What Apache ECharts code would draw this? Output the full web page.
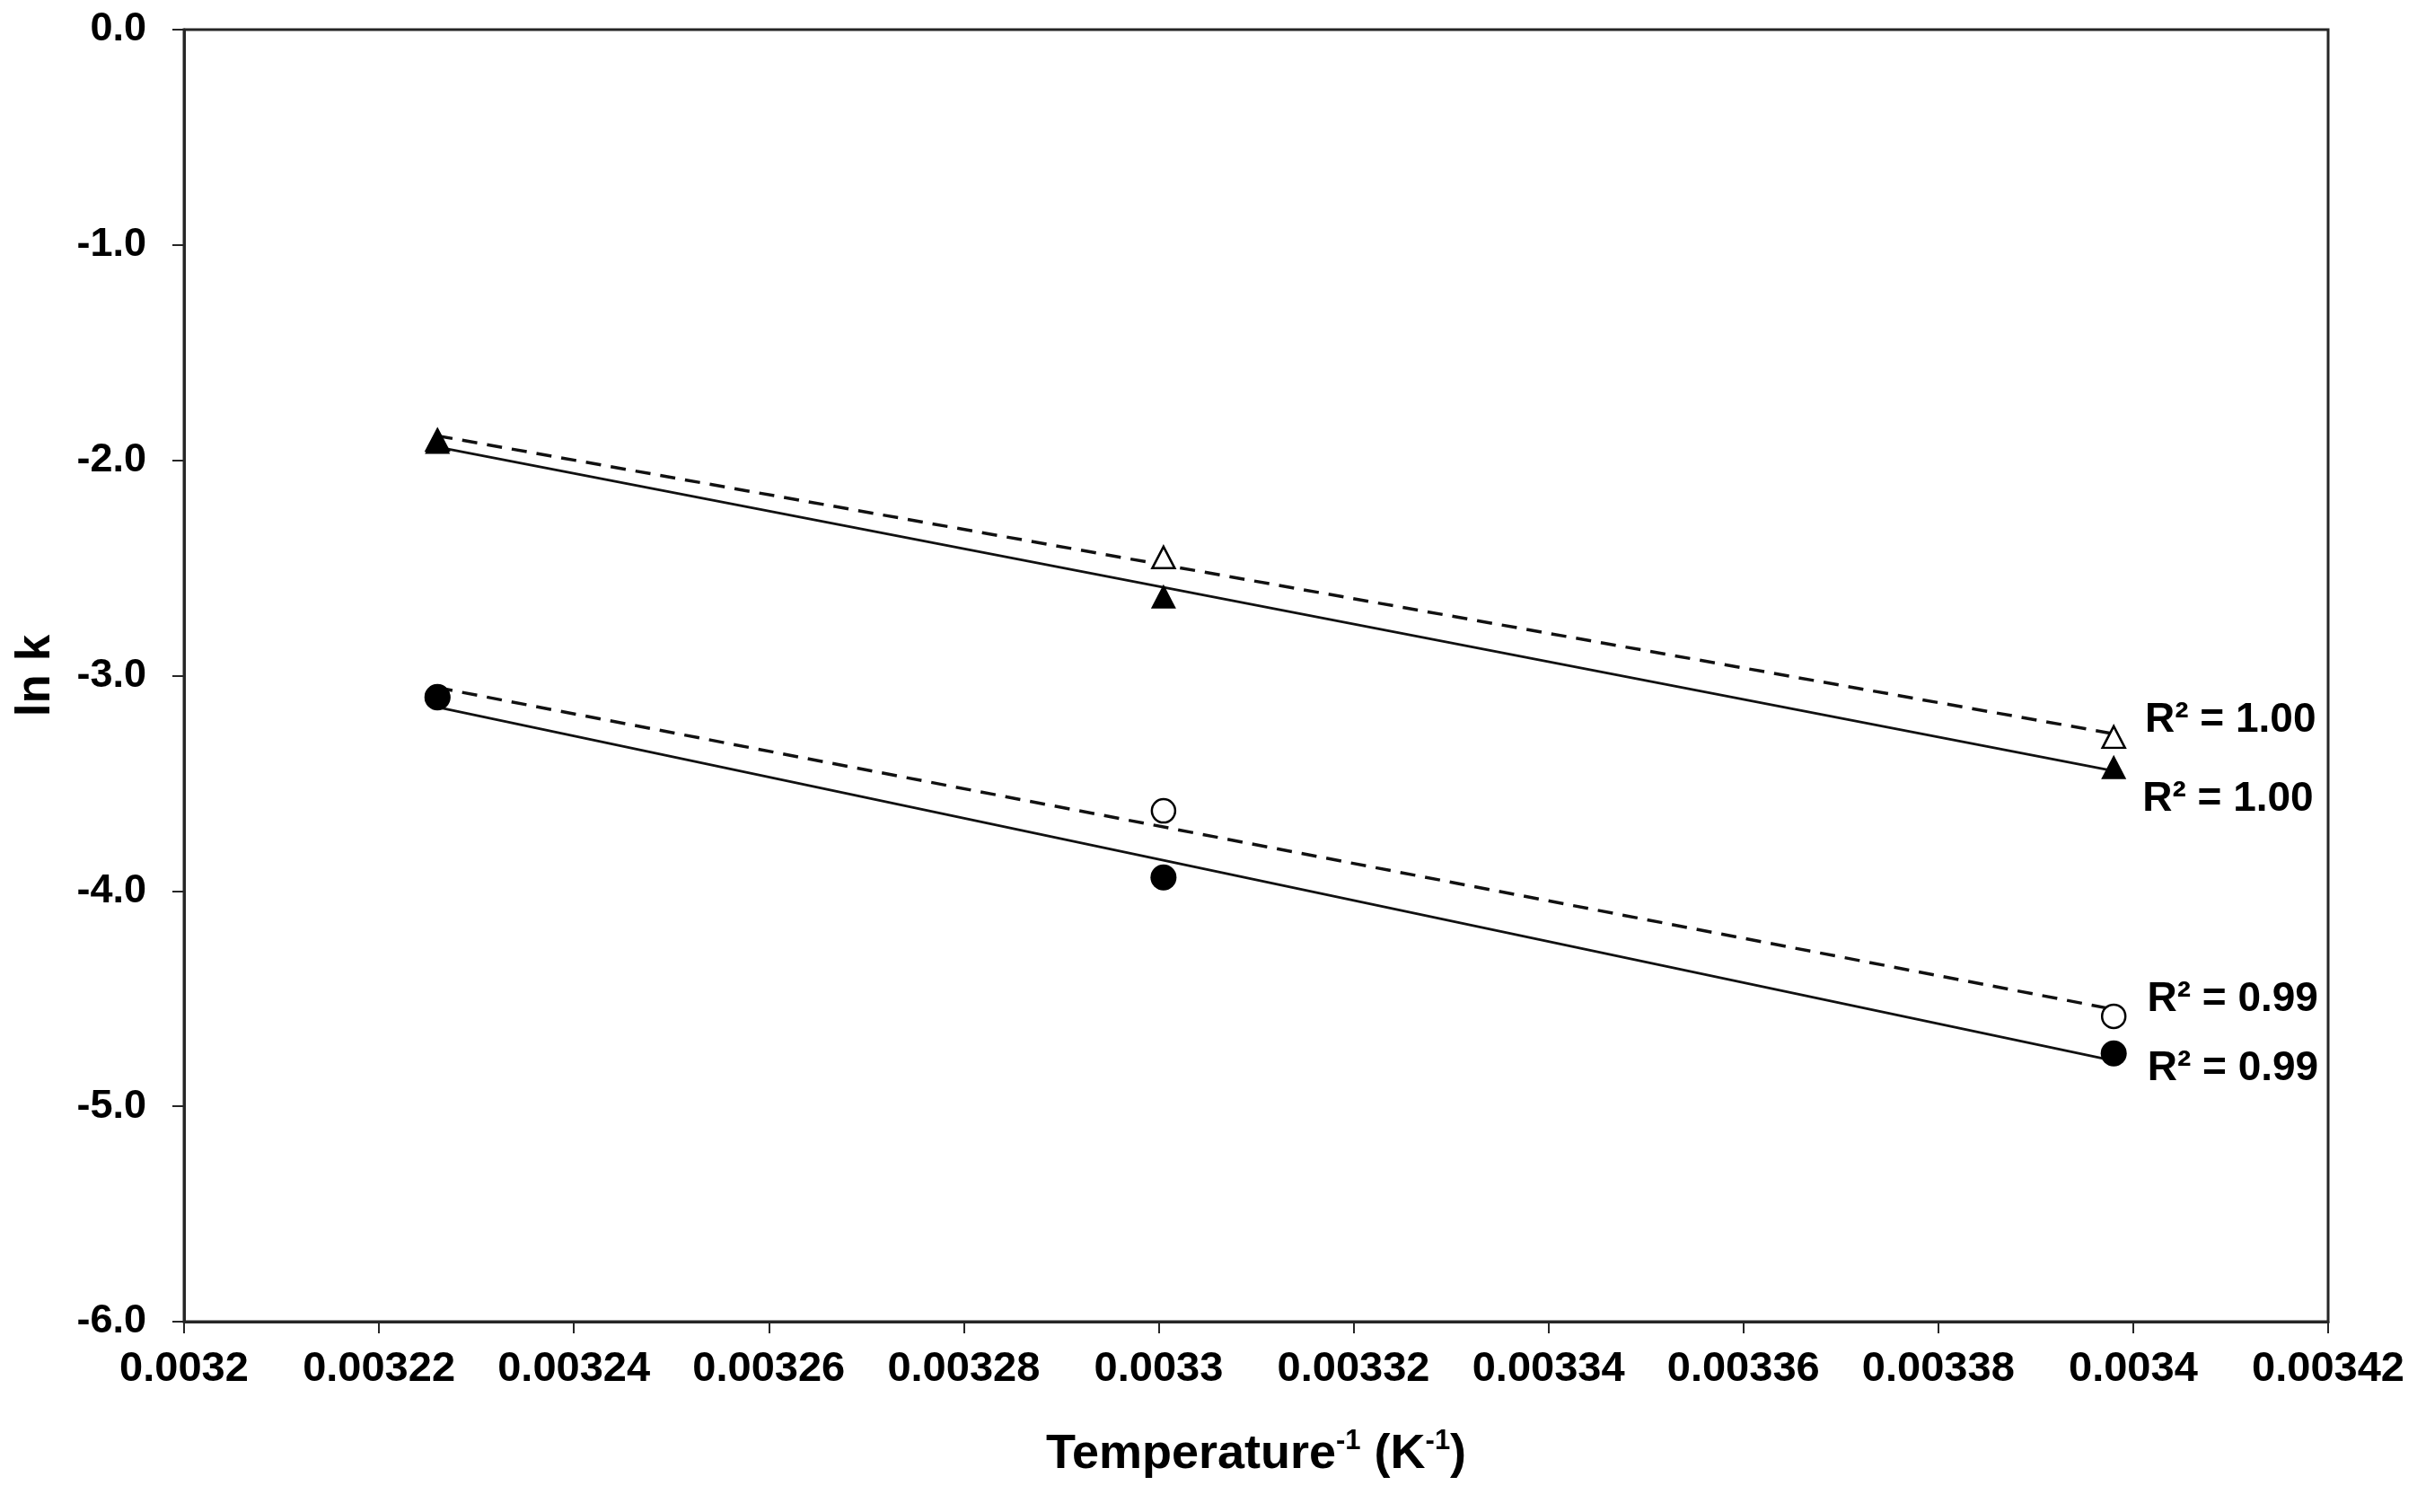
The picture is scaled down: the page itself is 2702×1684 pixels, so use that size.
<!DOCTYPE html>
<html>
<head>
<meta charset="utf-8">
<script src="https://cdn.jsdelivr.net/npm/echarts@6/dist/echarts.min.js"></script>
<style>
html,body{margin:0;padding:0;background:#fff;}
#chart{width:2702px;height:1684px;}
</style>
</head>
<body>
<div id="chart"></div>
<script>
// Inverse temperature (K^-1)
var invT = [0.003226, 0.0033005, 0.003398];
// ln k values
var filledTriangle = [-1.914, -2.632, -3.424];
var openTriangle   = [-1.906, -2.451, -3.285];
var filledCircle   = [-3.101, -3.937, -4.754];
var openCircle     = [-3.098, -3.628, -4.582];
// R² labels
var r2Labels = ['R² = 1.00', 'R² = 1.00', 'R² = 0.99', 'R² = 0.99'];
// axis ticks
var xTickLabels = ['0.0032','0.00322','0.00324','0.00326','0.00328','0.0033','0.00332','0.00334','0.00336','0.00338','0.0034','0.00342'];
var yTickLabels = ['-6.0','-5.0','-4.0','-3.0','-2.0','-1.0','0.0'];

function pairs(ys){ return invT.map(function(x,i){ return [x, ys[i]]; }); }
function fit(ys){
  var n = invT.length, mx = 0, my = 0;
  for (var i=0;i<n;i++){ mx += invT[i]; my += ys[i]; }
  mx/=n; my/=n;
  var sxy=0, sxx=0;
  for (var j=0;j<n;j++){ sxy += (invT[j]-mx)*(ys[j]-my); sxx += (invT[j]-mx)*(invT[j]-mx); }
  var b = sxy/sxx, a = my - b*mx;
  var x0 = invT[0], x1 = invT[n-1];
  return [[x0, a+b*x0],[x1, a+b*x1]];
}

var font = '"Liberation Sans", Arial, sans-serif';
var lineColor = '#111';

function trend(ys, dashed){
  return {
    type:'line', data: fit(ys), symbol:'none', silent:true, z:2,
    lineStyle:{ color: lineColor, width: dashed ? 3.5 : 2.8, type: dashed ? [17,11] : 'solid' }
  };
}
function lastLabel(ys, text, off){
  var d = pairs(ys);
  return d.map(function(p, i){
    if (i !== d.length-1) return p;
    return { value: p, label: { show:true, formatter: text, position:'right', offset: off,
      fontFamily: font, fontWeight:'bold', fontSize:46, color:'#000' } };
  });
}

var chart = echarts.init(document.getElementById('chart'));
chart.setOption({
  animation:false,
  backgroundColor:'#fff',
  grid:{ left:205, right:109, top:33, bottom:212, show:true, borderColor:'#262626', borderWidth:3, backgroundColor:'transparent' },
  xAxis:{
    type:'value', min:0.0032, max:0.00342, interval:0.00002,
    axisLine:{ show:true, onZero:false, lineStyle:{ color:'#262626', width:3 } },
    axisTick:{ show:true, inside:false, length:13, lineStyle:{ color:'#262626', width:2 } },
    splitLine:{ show:false },
    axisLabel:{ margin:30, fontFamily:font, fontWeight:'bold', fontSize:47, color:'#000',
      formatter:function(v){ return xTickLabels[Math.round((v-0.0032)/0.00002)]; } },
    name:'{a|Temperature}{s|-1}{a| (K}{s|-1}{a|)}',
    nameLocation:'middle', nameGap:118,
    nameTextStyle:{ rich:{
      a:{ fontFamily:font, fontWeight:'bold', fontSize:54, color:'#000', lineHeight:60 },
      s:{ fontFamily:font, fontWeight:'bold', fontSize:31, color:'#000', lineHeight:60, verticalAlign:'top', padding:[0,0,22,0] }
    } }
  },
  yAxis:{
    type:'value', min:-6, max:0, interval:1,
    axisLine:{ show:true, onZero:false, lineStyle:{ color:'#262626', width:3 } },
    axisTick:{ show:true, inside:false, length:13, lineStyle:{ color:'#262626', width:2 } },
    splitLine:{ show:false },
    axisLabel:{ margin:42, fontFamily:font, fontWeight:'bold', fontSize:45, color:'#000',
      formatter:function(v){ return yTickLabels[Math.round(v+6)]; } },
    name:'ln k', nameLocation:'middle', nameGap:138, nameRotate:90,
    nameTextStyle:{ fontFamily:font, fontWeight:'bold', fontSize:53, color:'#000' }
  },
  series:[
    trend(openTriangle, true),
    trend(filledTriangle, false),
    trend(openCircle, true),
    trend(filledCircle, false),
    { type:'scatter', name:'open triangle', symbol:'triangle', symbolSize:[25,24], z:3,
      itemStyle:{ color:'#fff', borderColor:'#000', borderWidth:2.5, opacity:1 },
      data: lastLabel(openTriangle, r2Labels[0], [16,-19]) },
    { type:'scatter', name:'open circle', symbol:'circle', symbolSize:26, z:3,
      itemStyle:{ color:'#fff', borderColor:'#000', borderWidth:2.5, opacity:1 },
      data: lastLabel(openCircle, r2Labels[2], [18,-19]) },
    { type:'scatter', name:'filled triangle', symbol:'triangle', symbolSize:[28,27], z:4,
      itemStyle:{ color:'#000', opacity:1 },
      data: lastLabel(filledTriangle, r2Labels[1], [13,36]) },
    { type:'scatter', name:'filled circle', symbol:'circle', symbolSize:29, z:4,
      itemStyle:{ color:'#000', opacity:1 },
      data: lastLabel(filledCircle, r2Labels[3], [18,17]) }
  ]
});
</script>
</body>
</html>
